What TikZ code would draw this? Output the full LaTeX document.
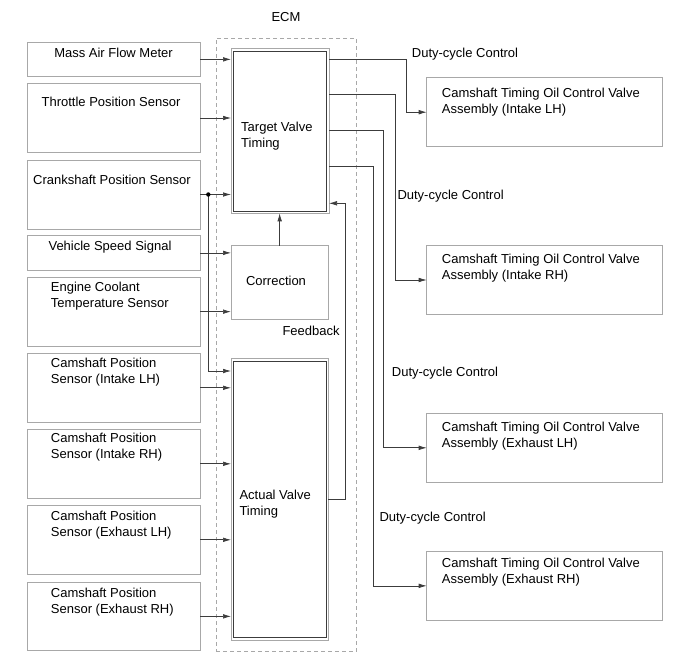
\documentclass[tikz,border=0pt]{standalone}
\usepackage{fontspec}
\setmainfont{Liberation Sans}
\usetikzlibrary{arrows.meta}
\definecolor{boxgray}{RGB}{168,168,168}
\definecolor{linegray}{RGB}{60,60,60}
\begin{document}
\begin{tikzpicture}[x=1pt,y=-1pt,
  sbox/.style={draw=boxgray, line width=1pt, rectangle, inner sep=0pt, outer sep=0pt},
  inbox/.style={draw=linegray, line width=0.6pt},
  txt/.style={inner sep=0pt, font=\fontsize{13}{16}\selectfont, align=left},
  arr/.style={draw=linegray, line width=0.7pt, -{Latex[length=8pt,width=4.6pt]}},
  ecmbox/.style={draw=boxgray, line width=0.9pt, dash pattern=on 4pt off 3pt, rectangle, inner sep=0pt, outer sep=0pt}]
\useasboundingbox (0,0) rectangle (690,659);

% ECM frame
\node[ecmbox, minimum width=140.7, minimum height=612.7] (ecm) at (286.35,344.65) {};
\node[txt, anchor=base] (ecmT) at (286,21.8) {ECM};

% left sensor boxes
\node[sbox, minimum width=173, minimum height=33.3] (maf) at (113.5,59.35) {};
\node[sbox, minimum width=173, minimum height=69.4] (tps) at (113.5,118) {};
\node[sbox, minimum width=173, minimum height=69] (ckp) at (113.5,194.5) {};
\node[sbox, minimum width=173, minimum height=34.3] (vss) at (113.5,252.85) {};
\node[sbox, minimum width=173, minimum height=68.7] (ect) at (113.5,311.65) {};
\node[sbox, minimum width=173, minimum height=69] (cmp1) at (113.5,387.8) {};
\node[sbox, minimum width=173, minimum height=69] (cmp2) at (113.5,463.8) {};
\node[sbox, minimum width=173, minimum height=69] (cmp3) at (113.5,539.8) {};
\node[sbox, minimum width=173, minimum height=68.7] (cmp4) at (113.5,616.35) {};

\node[txt, anchor=north] (mafT) at (113.5,47.7) {Mass Air Flow Meter};
\node[txt, anchor=north] (tpsT) at (111,96.7) {Throttle Position Sensor};
\node[txt, anchor=north] (ckpT) at (112,175) {Crankshaft Position Sensor};
\node[txt, anchor=north] (vssT) at (110,241) {Vehicle Speed Signal};
\node[txt, anchor=north west] (ectT) at (50.7,282.3) {Engine Coolant\\Temperature Sensor};
\node[txt, anchor=north west] (cmp1T) at (50.7,358.3) {Camshaft Position\\Sensor (Intake LH)};
\node[txt, anchor=north west] (cmp2T) at (50.7,433.3) {Camshaft Position\\Sensor (Intake RH)};
\node[txt, anchor=north west] (cmp3T) at (50.7,511) {Camshaft Position\\Sensor (Exhaust LH)};
\node[txt, anchor=north west] (cmp4T) at (50.7,588.3) {Camshaft Position\\Sensor (Exhaust RH)};

% ECM blocks
\node[sbox, minimum width=98, minimum height=165] (tgt) at (280,130.8) {};
\draw[inbox] ([shift={(2.5,2.5)}]tgt.north west) rectangle ([shift={(-2.5,-2.5)}]tgt.south east);
\node[txt, anchor=north west] (tgtT) at (241,121.7) {Target Valve\\Timing};
\node[sbox, minimum width=97.3, minimum height=73.3] (cor) at (279.65,282.35) {};
\node[txt] (corT) at (276,280.7) {Correction};
\node[sbox, minimum width=97.3, minimum height=281.7] (act) at (279.65,499.15) {};
\draw[inbox] ([shift={(2.5,2.5)}]act.north west) rectangle ([shift={(-2.5,-2.5)}]act.south east);
\node[txt, anchor=north west] (actT) at (239.3,490) {Actual Valve\\Timing};

% right valve boxes
\node[sbox, minimum width=235.6, minimum height=69] (ocv1) at (544.5,112.2) {};
\node[sbox, minimum width=235.6, minimum height=68.6] (ocv2) at (544.5,280) {};
\node[sbox, minimum width=235.6, minimum height=69] (ocv3) at (544.5,447.8) {};
\node[sbox, minimum width=235.6, minimum height=68.3] (ocv4) at (544.5,585.85) {};
\node[txt, anchor=north west] (ocv1T) at (441.7,87.7) {Camshaft Timing Oil Control Valve\\Assembly (Intake LH)};
\node[txt, anchor=north west] (ocv2T) at (441.7,254.3) {Camshaft Timing Oil Control Valve\\Assembly (Intake RH)};
\node[txt, anchor=north west] (ocv3T) at (441.7,421.7) {Camshaft Timing Oil Control Valve\\Assembly (Exhaust LH)};
\node[txt, anchor=north west] (ocv4T) at (441.7,558.3) {Camshaft Timing Oil Control Valve\\Assembly (Exhaust RH)};

% labels
\node[txt, anchor=base west] (dc1) at (411.7,57.2) {Duty-cycle Control};
\node[txt, anchor=base west] (dc2) at (397.3,199.5) {Duty-cycle Control};
\node[txt, anchor=base west] (dc3) at (391.7,376.2) {Duty-cycle Control};
\node[txt, anchor=base west] (dc4) at (379.3,521.2) {Duty-cycle Control};
\node[txt, anchor=base west] (fbT) at (282.3,335.5) {Feedback};

% inputs
\draw[arr] (maf.east) -- (maf.east -| tgt.west);
\draw[arr] (tps.east) -- (tps.east -| tgt.west);
\draw[arr] (ckp.east) -- (ckp.east -| tgt.west);
\coordinate (ckdot) at ([xshift=8.3]ckp.east);
\coordinate (actin) at (act.west |- 0,371);
\draw[arr] (ckdot) |- (actin);
\fill[black] (ckdot) circle (2.2);
\draw[arr] (vss.east) -- (vss.east -| cor.west);
\draw[arr] (ect.east) -- (ect.east -| cor.west);
\draw[arr] (cmp1.east) -- (cmp1.east -| act.west);
\draw[arr] (cmp2.east) -- (cmp2.east -| act.west);
\draw[arr] (cmp3.east) -- (cmp3.east -| act.west);
\draw[arr] (cmp4.east) -- (cmp4.east -| act.west);

% internal
\draw[arr] (cor.north) -- (cor.north |- tgt.south);
\coordinate (fbin) at (tgt.east |- 0,203.3);
\draw[arr] (act.east) -- ++(16.7,0) |- (fbin);

% outputs
\coordinate (o1) at (tgt.east |- 0,59);
\coordinate (o2) at (tgt.east |- 0,94.3);
\coordinate (o3) at (tgt.east |- 0,130);
\coordinate (o4) at (tgt.east |- 0,166.7);
\draw[arr] (o1) -- (406,59) |- (ocv1.west);
\draw[arr] (o2) -- (395,94.3) |- (ocv2.west);
\draw[arr] (o3) -- (383.3,130) |- (ocv3.west);
\draw[arr] (o4) -- (373.3,166.7) |- (ocv4.west);
\end{tikzpicture}
\end{document}
